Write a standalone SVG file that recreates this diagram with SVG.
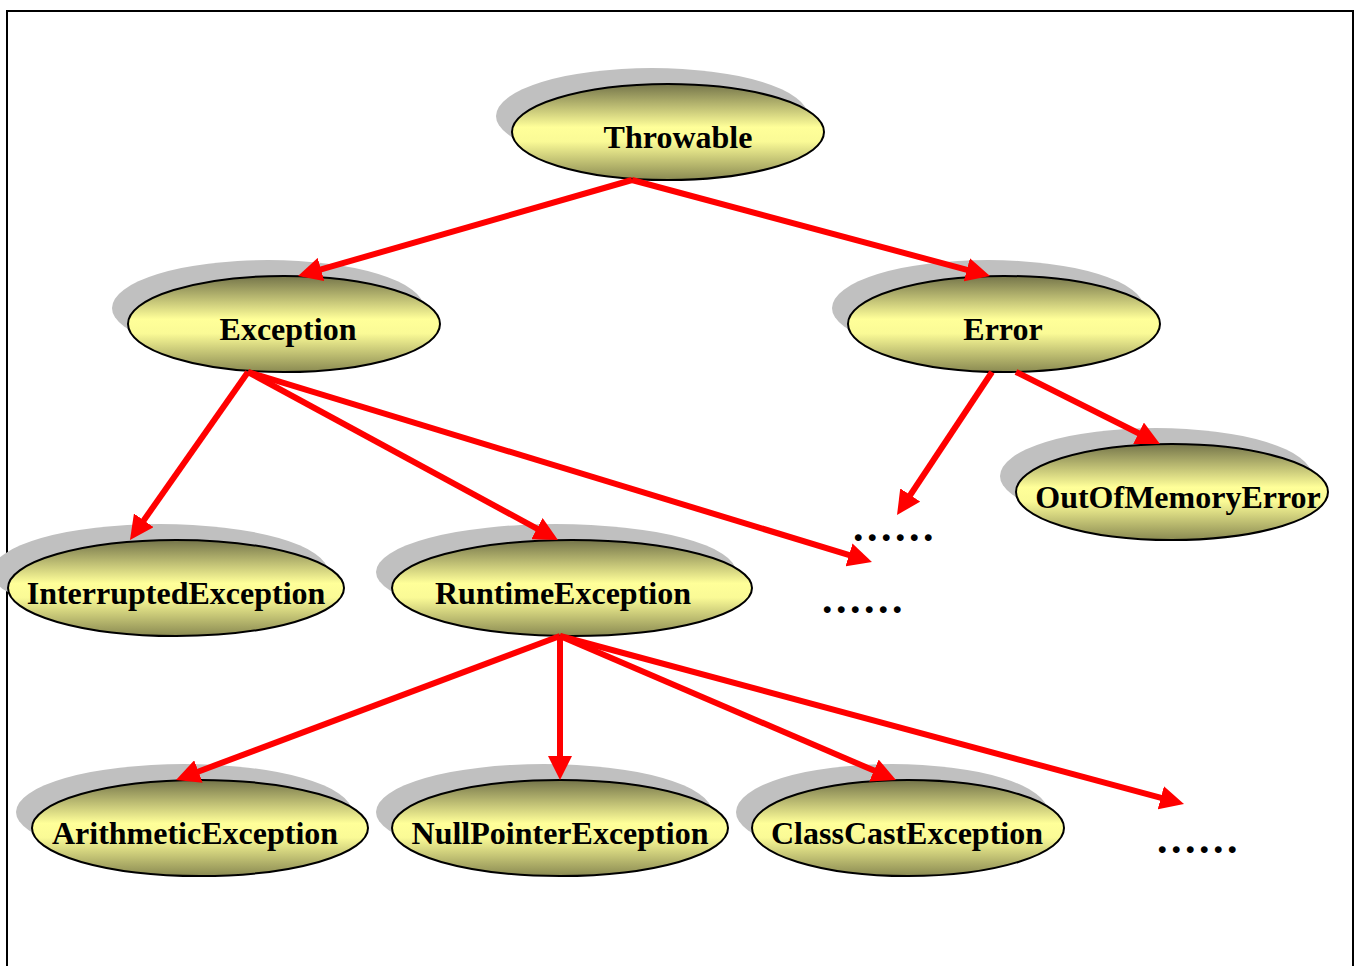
<svg xmlns="http://www.w3.org/2000/svg" width="1358" height="966" viewBox="0 0 1358 966">
<style>
.sh{fill:#c0c0c0}
.el{fill:url(#g);stroke:#000;stroke-width:2}
.t{font-family:"Liberation Serif","Times New Roman",serif;font-weight:bold;font-size:32px;fill:#000;text-anchor:middle}
.d{font-family:"Liberation Serif","Times New Roman",serif;font-weight:bold;font-size:42px;fill:#000;letter-spacing:3.5px}
.c line{stroke:#ff0000;stroke-width:6;marker-end:url(#ah)}
</style>
<defs>
<linearGradient id="g" x1="0" y1="0" x2="0" y2="1">
<stop offset="0" stop-color="#74744a"/>
<stop offset="0.45" stop-color="#ffff99"/>
<stop offset="0.6" stop-color="#fafa96"/>
<stop offset="1" stop-color="#8a8a52"/>
</linearGradient>
<marker id="ah" viewBox="0 0 24 24" refX="9" refY="12" markerWidth="24" markerHeight="24" markerUnits="userSpaceOnUse" orient="auto">
<path d="M0,0 L24,12 L0,24 Z" fill="#ff0000"/>
</marker>
</defs>
<rect x="0" y="0" width="1358" height="966" fill="#fff"/>
<path d="M7,970 L7,11 L1353,11 L1353,970" fill="none" stroke="#000" stroke-width="2"/>

<g id="throwable"><ellipse class="sh" cx="652" cy="116" rx="156" ry="48"/><ellipse class="el" cx="668" cy="132" rx="156" ry="48"/><text class="t" x="678" y="148">Throwable</text></g>
<g id="exception"><ellipse class="sh" cx="268" cy="308" rx="156" ry="48"/><ellipse class="el" cx="284" cy="324" rx="156" ry="48"/><text class="t" x="288" y="340">Exception</text></g>
<g id="error"><ellipse class="sh" cx="988" cy="308" rx="156" ry="48"/><ellipse class="el" cx="1004" cy="324" rx="156" ry="48"/><text class="t" x="1003" y="340">Error</text></g>
<g id="outofmemoryerror"><ellipse class="sh" cx="1156" cy="476" rx="156" ry="48"/><ellipse class="el" cx="1172" cy="492" rx="156" ry="48"/><text class="t" x="1178" y="508">OutOfMemoryError</text></g>
<g id="interruptedexception"><ellipse class="sh" cx="160" cy="572" rx="168" ry="48"/><ellipse class="el" cx="176" cy="588" rx="168" ry="48"/><text class="t" x="176" y="604">InterruptedException</text></g>
<g id="runtimeexception"><ellipse class="sh" cx="556" cy="572" rx="180" ry="48"/><ellipse class="el" cx="572" cy="588" rx="180" ry="48"/><text class="t" x="563" y="604">RuntimeException</text></g>
<g id="arithmeticexception"><ellipse class="sh" cx="184" cy="812" rx="168" ry="48"/><ellipse class="el" cx="200" cy="828" rx="168" ry="48"/><text class="t" x="195" y="844">ArithmeticException</text></g>
<g id="nullpointerexception"><ellipse class="sh" cx="544" cy="812" rx="168" ry="48"/><ellipse class="el" cx="560" cy="828" rx="168" ry="48"/><text class="t" x="560" y="844">NullPointerException</text></g>
<g id="classcastexception"><ellipse class="sh" cx="892" cy="812" rx="156" ry="48"/><ellipse class="el" cx="908" cy="828" rx="156" ry="48"/><text class="t" x="907" y="844">ClassCastException</text></g>

<g id="dots1"><text class="d" x="853" y="541">......</text></g>
<g id="dots2"><text class="d" x="822" y="613">......</text></g>
<g id="dots3"><text class="d" x="1157" y="853">......</text></g>

<g class="c" id="connectors">
<line x1="632" y1="180" x2="312.4" y2="271.9"/>
<line x1="632" y1="180" x2="975.5" y2="272.1"/>
<line x1="248" y1="372" x2="138.6" y2="527.7"/>
<line x1="248" y1="372" x2="544.8" y2="532.9"/>
<line x1="248" y1="372" x2="857.6" y2="557.6"/>
<line x1="992" y1="372" x2="905.3" y2="502.5"/>
<line x1="1016" y1="372" x2="1146.6" y2="437.3"/>
<line x1="560" y1="636" x2="190" y2="774.7"/>
<line x1="560" y1="636" x2="560" y2="765"/>
<line x1="560" y1="636" x2="882.2" y2="774.1"/>
<line x1="560" y1="636" x2="1169.5" y2="800.1"/>
</g>
</svg>
